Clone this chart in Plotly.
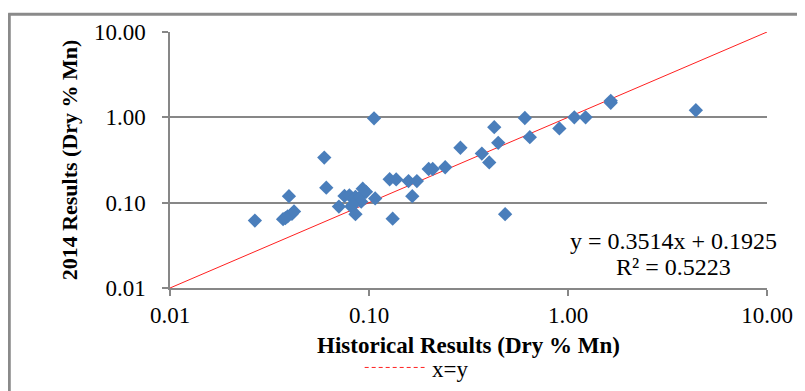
import plotly.graph_objects as go

# Historical results (x) and 2014 results (y), Dry % Mn
historical = [0.0267, 0.037, 0.038, 0.039, 0.041, 0.042, 0.0396, 0.0596, 0.061, 0.0706,
              0.0753, 0.0797, 0.0855, 0.0904, 0.093, 0.0966, 0.0815, 0.0855, 0.0914, 0.1074,
              0.106, 0.127, 0.137, 0.1315, 0.158, 0.174, 0.165, 0.1995, 0.209, 0.2415,
              0.288, 0.369, 0.402, 0.426, 0.446, 0.483, 0.607, 0.643, 0.905, 1.076,
              1.226, 1.64, 1.64, 4.39, 0.083]
results_2014 = [0.0616, 0.064, 0.066, 0.069, 0.074, 0.079, 0.119, 0.338, 0.150, 0.090,
                0.120, 0.122, 0.117, 0.117, 0.146, 0.134, 0.090, 0.0734, 0.1026, 0.112,
                0.974, 0.188, 0.187, 0.065, 0.179, 0.179, 0.119, 0.248, 0.248, 0.26,
                0.44, 0.376, 0.296, 0.767, 0.502, 0.0734, 0.982, 0.585, 0.741, 1.0,
                1.0, 1.56, 1.48, 1.21, 0.094]

line_x = [0.01, 10]
line_y = [0.01, 10]

tick_vals = [0.01, 0.1, 1, 10]
x_tick_text = ["0.01", "0.10", "1.00", "10.00"]
y_tick_text = ["0.01", "0.10", "1.00", "10.00"]

equation_text = "y = 0.3514x + 0.1925"
r2_text = "R² = 0.5223"

# page body has an 8px margin; work in page pixels and convert
OFF = 8
W, H = 805 - OFF, 391 - OFF
L, R, T, B = 170 - OFF, 768 - OFF, 27 - OFF, 288 - OFF


def px(x):
    return (x - OFF - L) / (R - L)


def py(y):
    return (B - (y - OFF)) / (B - T)


FONT = "Liberation Serif, Times New Roman, serif"
GRID = "#878787"

fig = go.Figure()
fig.add_trace(go.Scatter(x=line_x, y=line_y, mode="lines",
                         line=dict(color="#FF2020", width=1), showlegend=False,
                         hoverinfo="skip"))
fig.add_trace(go.Scatter(x=historical, y=results_2014, mode="markers",
                         marker=dict(symbol="diamond", size=11, color="#4A7EBB",
                                     line=dict(width=0)),
                         showlegend=False))

fig.update_layout(
    width=W, height=H,
    margin=dict(l=L, r=W - R, t=T, b=H - B),
    paper_bgcolor="white", plot_bgcolor="white",
    font=dict(family=FONT, color="black", size=23),
    xaxis=dict(type="log", range=[-2, 1], tickvals=tick_vals, ticktext=x_tick_text,
               showgrid=False, showline=True, linecolor=GRID, linewidth=1.5,
               ticks="outside", ticklen=6, tickcolor=GRID, tickwidth=1.5,
               tickfont=dict(size=23, family=FONT), zeroline=False,
               title=dict(text="<b>Historical Results (Dry % Mn)</b>",
                          font=dict(size=23, family=FONT), standoff=10)),
    yaxis=dict(type="log", range=[-2, 1], tickvals=tick_vals, ticktext=y_tick_text,
               showgrid=True, gridcolor=GRID, gridwidth=1.5,
               showline=True, linecolor=GRID, linewidth=1.5,
               ticks="outside", ticklen=6, tickcolor=GRID, tickwidth=1.5,
               ticklabelstandoff=12,
               tickfont=dict(size=23, family=FONT), zeroline=False,
               title=dict(text="<b>2014 Results (Dry % Mn)</b>",
                          font=dict(size=22, family=FONT), standoff=10)),
    annotations=[
        dict(x=px(674), y=py(240), xref="paper", yref="paper", text=equation_text,
             showarrow=False, font=dict(size=24, family=FONT), xanchor="center", yanchor="middle"),
        dict(x=px(674), y=py(267), xref="paper", yref="paper", text=r2_text,
             showarrow=False, font=dict(size=24, family=FONT), xanchor="center", yanchor="middle"),
        dict(x=px(430), y=py(371), xref="paper", yref="paper", text="x=y",
             showarrow=False, font=dict(size=23, family=FONT), xanchor="left", yanchor="middle"),
    ],
    shapes=[
        dict(type="line", xref="paper", yref="paper", x0=px(365), x1=px(425), y0=py(369), y1=py(369),
             line=dict(color="#FF2020", width=1, dash="4px,3px")),
        dict(type="line", xref="paper", yref="paper", x0=px(9), x1=px(9), y0=py(8), y1=py(400),
             line=dict(color="#8A8A8A", width=3)),
        dict(type="line", xref="paper", yref="paper", x0=px(8), x1=px(820), y0=py(9), y1=py(9),
             line=dict(color="#8A8A8A", width=3)),
    ],
)

fig.write_html("out.html")
